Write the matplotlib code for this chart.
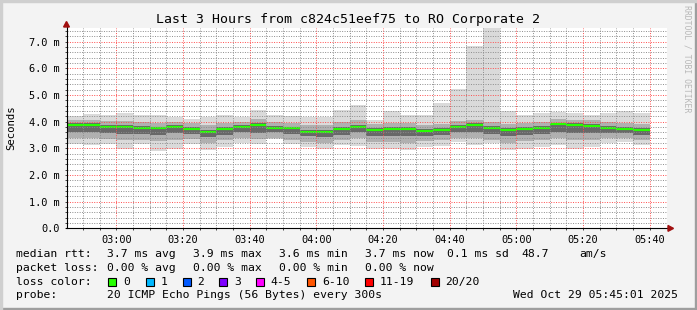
import numpy as np
import matplotlib
matplotlib.use("Agg")
import matplotlib.pyplot as plt
from matplotlib.patches import Rectangle, Polygon

W, H = 697, 310
MONO = "DejaVu Sans Mono"

# each smoke bar covers 5 minutes, minutes after midnight (02:45 .. 05:35)
step_start = np.arange(165, 340, 5)

# median rtt per step (ms)
median_ms = [3.87, 3.87, 3.81, 3.81, 3.76, 3.76, 3.81, 3.72, 3.61, 3.72,
             3.81, 3.88, 3.76, 3.76, 3.61, 3.61, 3.72, 3.81, 3.68, 3.72,
             3.72, 3.65, 3.68, 3.81, 3.88, 3.76, 3.68, 3.72, 3.76, 3.91,
             3.88, 3.85, 3.76, 3.72, 3.68]
# slowest / fastest ping per step (ms)
max_ms = [4.22, 4.28, 4.25, 4.34, 4.25, 4.25, 4.16, 4.10, 4.16, 4.25,
          4.19, 4.43, 4.25, 4.22, 4.19, 4.19, 4.43, 4.62, 4.08, 4.40,
          4.25, 4.26, 4.71, 5.22, 6.83, 7.90, 4.41, 4.25, 4.31, 4.37,
          4.31, 4.25, 4.31, 4.40, 4.31]
min_ms = [3.18, 3.12, 3.18, 2.99, 3.18, 2.91, 2.99, 3.18, 2.93, 3.06,
          3.21, 3.18, 3.34, 3.18, 3.06, 2.99, 3.12, 3.10, 2.99, 2.99,
          2.93, 3.06, 3.10, 3.25, 3.12, 3.19, 2.93, 2.99, 3.06, 3.12,
          2.96, 3.06, 3.21, 3.25, 3.12]
# outer part of the smoke (roughly 10th / 90th ping)
p90_ms = [4.05, 4.08, 4.02, 4.04, 3.98, 3.97, 4.00, 3.95, 3.86, 3.95,
          4.00, 4.12, 3.98, 3.96, 3.88, 3.86, 3.98, 4.06, 3.90, 3.95,
          3.94, 3.88, 3.92, 4.04, 4.08, 3.98, 3.92, 3.95, 3.98, 4.10,
          4.08, 4.05, 3.98, 3.96, 3.92]
p10_ms = [3.40, 3.38, 3.36, 3.30, 3.32, 3.28, 3.30, 3.36, 3.20, 3.30,
          3.38, 3.36, 3.40, 3.32, 3.25, 3.22, 3.30, 3.40, 3.24, 3.25,
          3.22, 3.28, 3.30, 3.38, 3.40, 3.32, 3.22, 3.26, 3.30, 3.38,
          3.30, 3.32, 3.38, 3.40, 3.32]
# dark core of the smoke (roughly 25th / 75th ping)
p75_ms = [3.94, 3.95, 3.88, 3.88, 3.83, 3.82, 3.88, 3.80, 3.70, 3.80,
          3.88, 3.95, 3.83, 3.82, 3.70, 3.68, 3.80, 3.88, 3.76, 3.80,
          3.79, 3.73, 3.76, 3.88, 3.95, 3.83, 3.76, 3.80, 3.83, 3.97,
          3.95, 3.92, 3.83, 3.80, 3.76]
p25_ms = [3.62, 3.60, 3.58, 3.55, 3.54, 3.52, 3.56, 3.55, 3.42, 3.52,
          3.60, 3.58, 3.60, 3.54, 3.45, 3.44, 3.52, 3.60, 3.46, 3.48,
          3.46, 3.48, 3.50, 3.60, 3.62, 3.54, 3.46, 3.50, 3.54, 3.62,
          3.58, 3.58, 3.58, 3.58, 3.52]

x_ticks = [180, 200, 220, 240, 260, 280, 300, 320, 340]
x_labels = ["03:00", "03:20", "03:40", "04:00", "04:20", "04:40", "05:00", "05:20", "05:40"]
y_ticks = [0, 1, 2, 3, 4, 5, 6, 7]
y_labels = ["0.0", "1.0 m", "2.0 m", "3.0 m", "4.0 m", "5.0 m", "6.0 m", "7.0 m"]

loss_labels = ["0", "1", "2", "3", "4-5", "6-10", "11-19", "20/20"]
loss_colors = ["#26ff00", "#00b8ff", "#0059ff", "#7e00ff", "#ff00ff", "#ff5500", "#ff0000", "#a10000"]


def fx(x):
    return x / W


def fy(y):
    return 1 - y / H


fig = plt.figure(figsize=(W / 100, H / 100), dpi=100, facecolor="#f3f3f3")

# frame shading like rrdtool
fig.patches.append(Rectangle((0, 0), 1, 2 / H, transform=fig.transFigure, color="#9e9e9e"))
fig.patches.append(Rectangle((1 - 2 / W, 0), 2 / W, 1, transform=fig.transFigure, color="#9e9e9e"))
fig.patches.append(Rectangle((0, 1 - 2 / H), 1, 2 / H, transform=fig.transFigure, color="#cfcfcf"))
fig.patches.append(Rectangle((0, 0), 2 / W, 1, transform=fig.transFigure, color="#cfcfcf"))

ax = fig.add_axes([fx(66.5), fy(228.4), 600 / W, 200 / H])
ax.set_facecolor("white")
ax.set_xlim(165 + 1 / 60, 345 + 1 / 60)
ax.set_ylim(0, 7.5)

lo = np.array(min_ms)
hi = np.array(max_ms)
ax.bar(step_start, hi - lo, bottom=lo, width=5, align="edge", color="#dadada", lw=0, zorder=1)
ax.bar(step_start, np.array(p90_ms) - np.array(p10_ms), bottom=p10_ms, width=5,
       align="edge", color="#b0b0b0", lw=0, zorder=1)
ax.bar(step_start, np.array(p75_ms) - np.array(p25_ms), bottom=p25_ms, width=5,
       align="edge", color="#686868", lw=0, zorder=1)
ax.hlines(median_ms, step_start, step_start + 5, color="#26ff00", lw=1.6, zorder=2)

ax.set_xticks(x_ticks)
ax.set_xticklabels(x_labels, family=MONO, fontsize=7.4)
ax.set_xticks(np.arange(170, 345, 5), minor=True)
ax.set_yticks(y_ticks)
ax.set_yticklabels(y_labels, family=MONO, fontsize=7.4)
ax.set_yticks(np.arange(0, 7.5, 0.2), minor=True)
ax.tick_params(which="both", length=1.5, width=0.7, color="#444444", pad=3.2)

ax.grid(which="minor", color=(0.55, 0.55, 0.55, 0.25), linestyle=(0, (1, 1.5)), lw=0.7)
ax.grid(which="major", color=(1, 0.3, 0.3, 0.32), linestyle=(0, (1, 1.5)), lw=0.7)
ax.set_axisbelow(False)

for s in ["top", "right"]:
    ax.spines[s].set_visible(False)
ax.spines["left"].set_linewidth(0.8)
ax.spines["bottom"].set_linewidth(0.8)
ax.spines["left"].set_bounds(0, 7.62)
ax.spines["bottom"].set_bounds(165, 345 + 1.6)
ax.spines["left"].set_zorder(4)
ax.spines["bottom"].set_zorder(4)

# axis arrows
fig.patches.append(Polygon([(fx(668), fy(225.5)), (fx(673.5), fy(228.4)), (fx(668), fy(231.3))],
                           closed=True, transform=fig.transFigure, color="#a11010"))
fig.patches.append(Polygon([(fx(63.6), fy(27)), (fx(66.5), fy(21.5)), (fx(69.4), fy(27))],
                           closed=True, transform=fig.transFigure, color="#a11010"))

fig.text(fx(348), fy(19.3), "Last 3 Hours from c824c51eef75 to RO Corporate 2",
         family=MONO, fontsize=9.5, ha="center", va="center")
fig.text(fx(11), fy(127.5), "Seconds", family=MONO, fontsize=7.7, rotation=90,
         ha="center", va="center")
fig.text(fx(687.5), fy(59), "RRDTOOL / TOBI OETIKER", family=MONO, fontsize=5.9,
         rotation=270, ha="center", va="center", color="#b8b8b8")

# legend block
fs = 8.2
rows = [
    (254.3, [(16, "median rtt:"), (107, "3.7 ms avg"), (193.3, "3.9 ms max"), (279, "3.6 ms min"),
             (365, "3.7 ms now"), (447, "0.1 ms sd"), (521, "48.7"), (579.3, "am/s")]),
    (267.7, [(16, "packet loss:"), (107, "0.00 % avg"), (193.3, "0.00 % max"), (279, "0.00 % min"),
             (365, "0.00 % now")]),
    (295.0, [(16, "probe:"), (107, "20 ICMP Echo Pings (56 Bytes) every 300s"),
             (512.7, "Wed Oct 29 05:45:01 2025")]),
]
for y, chunks in rows:
    for x, s in chunks:
        fig.text(fx(x), fy(y), s, family=MONO, fontsize=fs, ha="left", va="center")

y3 = 281.7
fig.text(fx(16), fy(y3), "loss color:", family=MONO, fontsize=fs, ha="left", va="center")
box_x = [108.3, 145.7, 182.7, 219.3, 256, 307.3, 365, 430.7]
for bx, lab, col in zip(box_x, loss_labels, loss_colors):
    fig.patches.append(Rectangle((fx(bx), fy(y3 + 4)), 8 / W, 8 / H, transform=fig.transFigure,
                                 facecolor=col, edgecolor="black", lw=0.8))
    fig.text(fx(bx + 14.5), fy(y3), lab, family=MONO, fontsize=fs, ha="left", va="center")

fig.savefig("out.png", dpi=100, facecolor=fig.get_facecolor())
